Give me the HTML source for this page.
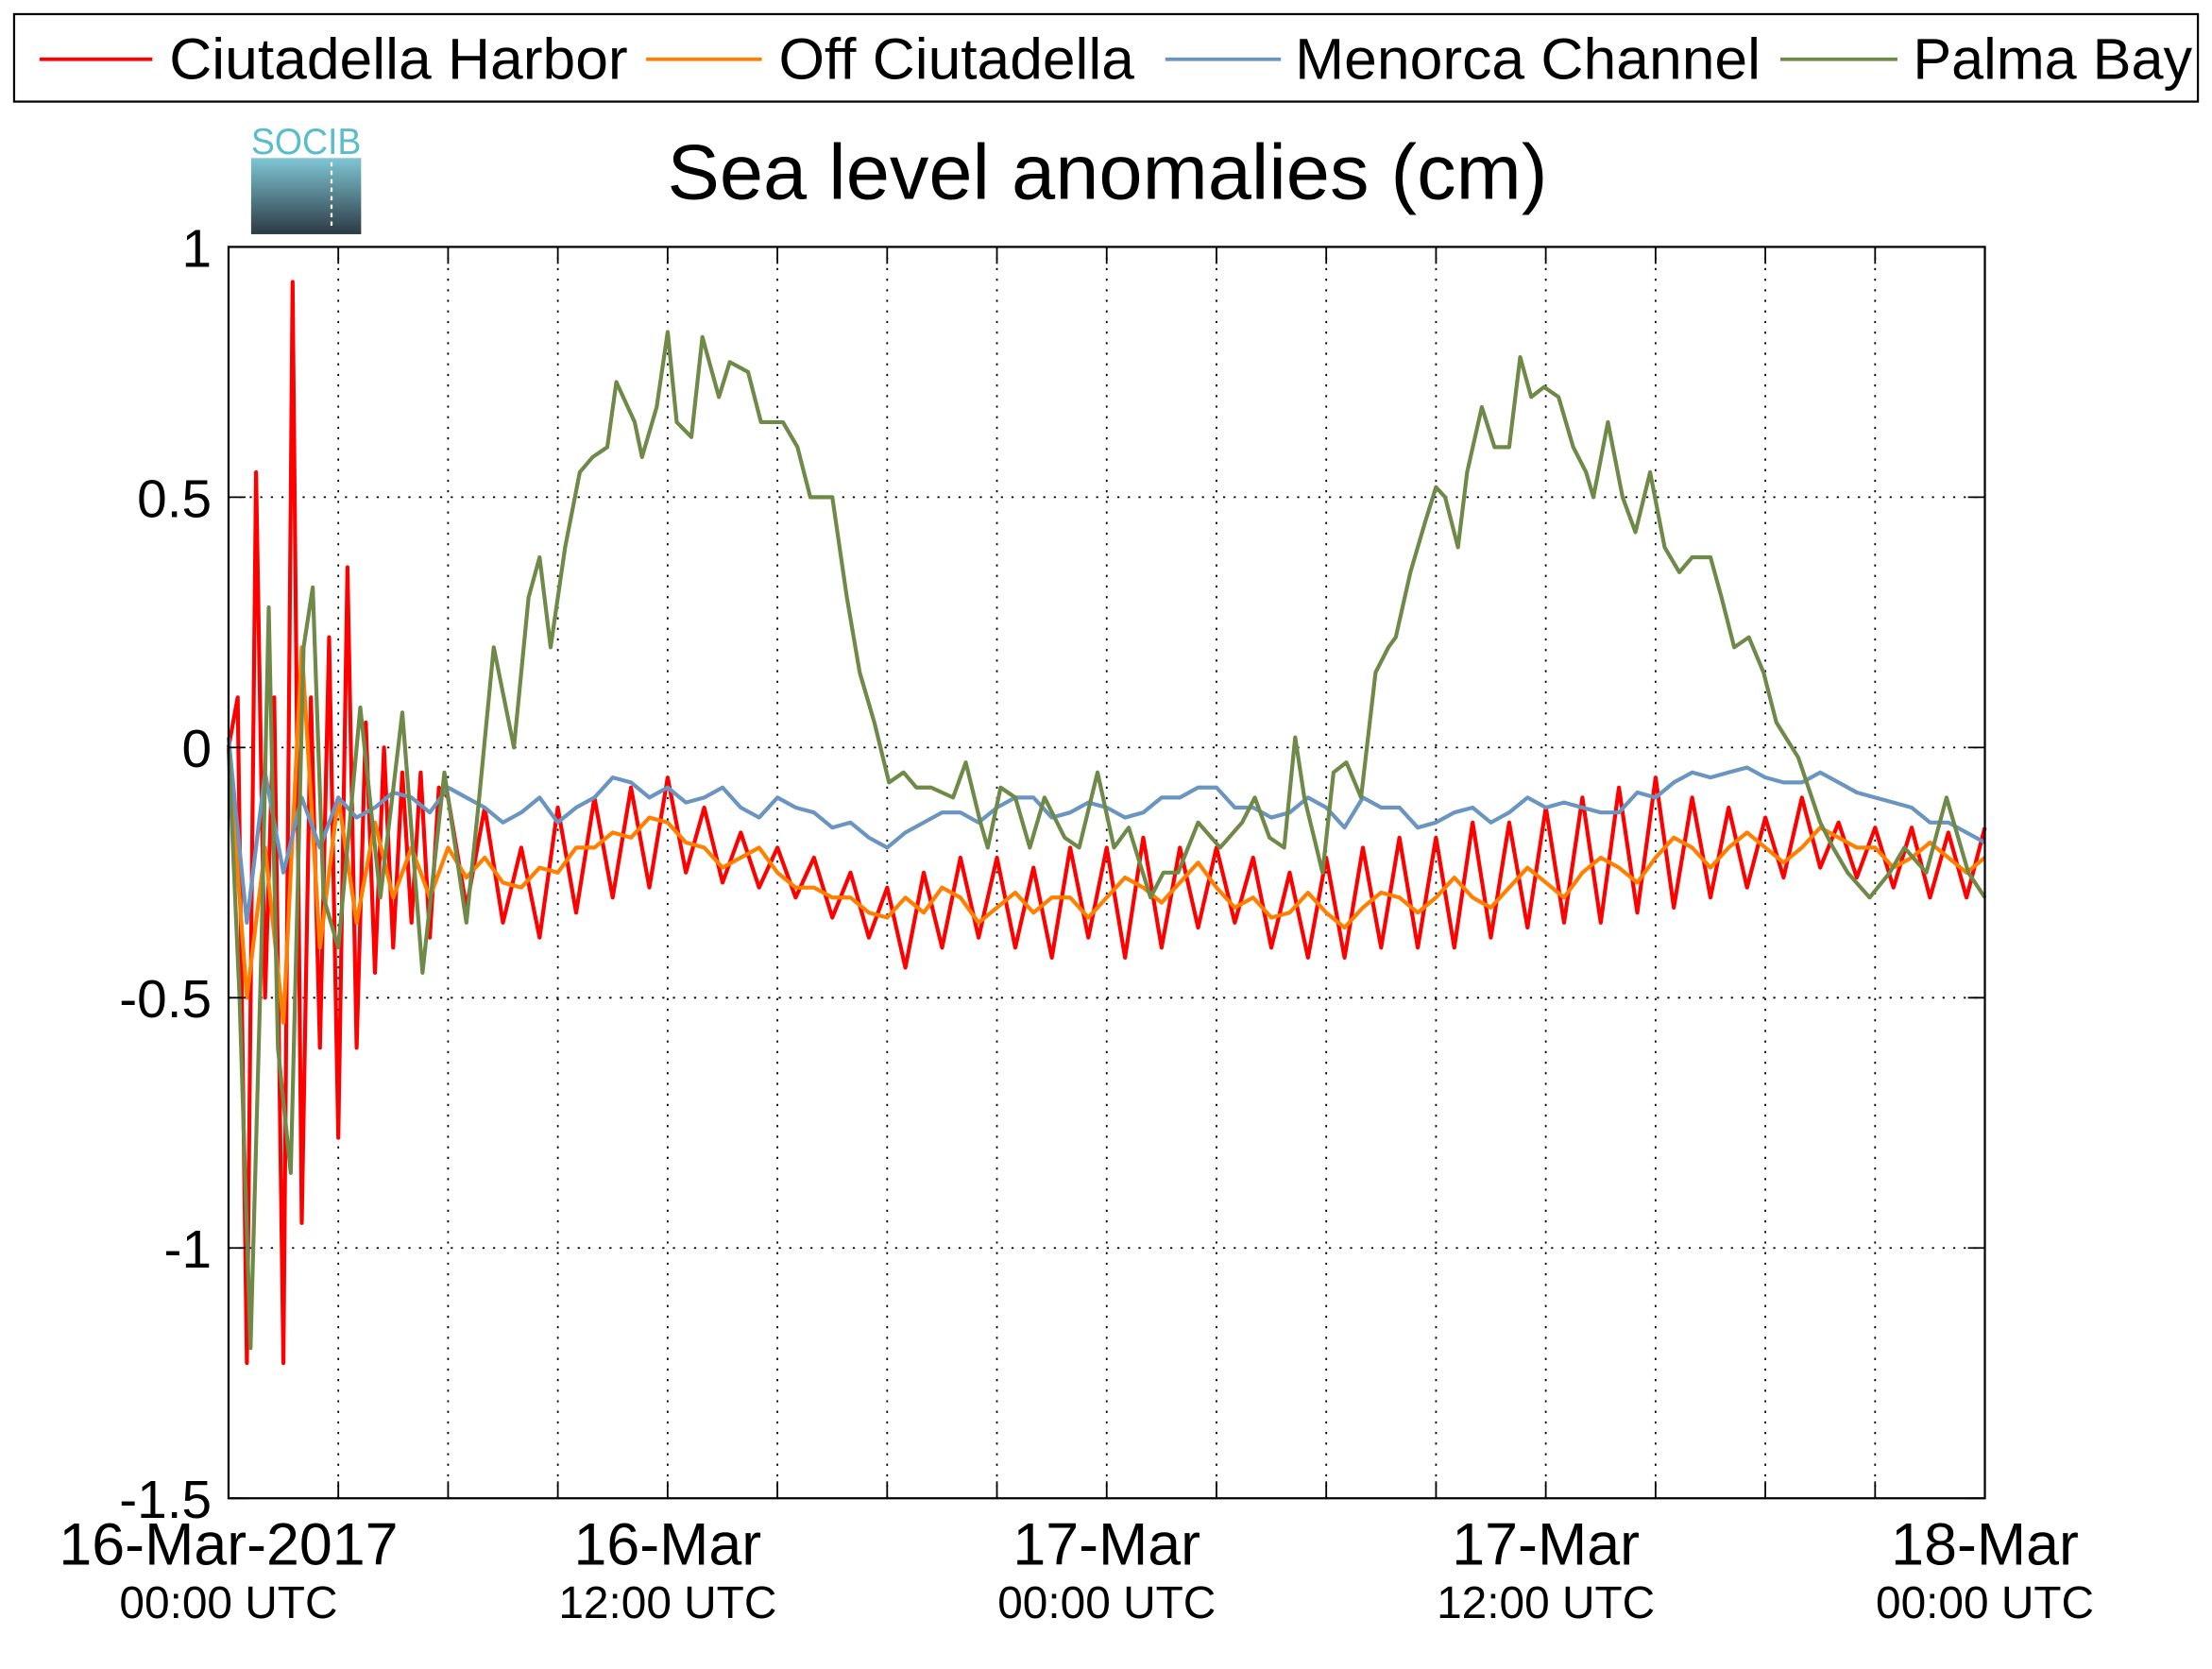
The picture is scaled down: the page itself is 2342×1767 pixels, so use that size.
<!DOCTYPE html>
<html><head><meta charset="utf-8"><style>
html,body{margin:0;padding:0;background:#fff}
svg{display:block}
text{font-family:"Liberation Sans",sans-serif}
</style></head><body>
<svg id="chart" width="2342" height="1767" viewBox="0 0 1568 1183" xmlns="http://www.w3.org/2000/svg">
<defs><linearGradient id="lg" x1="0" y1="0" x2="0" y2="1"><stop offset="0" stop-color="#7fc6d4"/><stop offset="1" stop-color="#2c3a44"/></linearGradient></defs>
<g>
<rect x="10" y="10" width="1548" height="62" fill="#fff" stroke="#000" stroke-width="1.5"/>
<g><line x1="28" y1="42" x2="108" y2="42" stroke="#ff0000" stroke-width="2.5"/><text x="120" y="56" font-size="41" textLength="325" lengthAdjust="spacingAndGlyphs">Ciutadella Harbor</text></g>
<g><line x1="458" y1="42" x2="540" y2="42" stroke="#ff8000" stroke-width="2.5"/><text x="552" y="56" font-size="41" textLength="252" lengthAdjust="spacingAndGlyphs">Off Ciutadella</text></g>
<g><line x1="826" y1="42" x2="908" y2="42" stroke="#6a95c0" stroke-width="2.5"/><text x="918" y="56" font-size="41" textLength="330" lengthAdjust="spacingAndGlyphs">Menorca Channel</text></g>
<g><line x1="1262" y1="42" x2="1345" y2="42" stroke="#6f8a48" stroke-width="2.5"/><text x="1356" y="56" font-size="41" textLength="198" lengthAdjust="spacingAndGlyphs">Palma Bay</text></g>
</g>
<g>
<rect x="178" y="112" width="78" height="54" fill="url(#lg)"/>
<text x="217" y="109" font-size="26" fill="#5bbccc" text-anchor="middle" textLength="78" lengthAdjust="spacingAndGlyphs">SOCIB</text>
<line x1="235" y1="115" x2="235" y2="160" stroke="#fff" stroke-width="1.5" stroke-dasharray="3,3"/>
</g>
<text x="785" y="141" font-size="55" text-anchor="middle" textLength="624" lengthAdjust="spacingAndGlyphs">Sea level anomalies (cm)</text>
<g id="grid"></g>
<g id="series"></g>
<rect x="162" y="175" width="1245" height="887" fill="none" stroke="#000" stroke-width="1.5"/>
<g id="axes"></g>
</svg>
<script>
const yTicks=[1,0.5,0,-0.5,-1,-1.5];
const yTickLabels=["1","0.5","0","-0.5","-1","-1.5"];
const xLabelHours=[0,12,24,36,48];
const xLabelTop=["16-Mar-2017","16-Mar","17-Mar","17-Mar","18-Mar"];
const xLabelBottom=["00:00 UTC","12:00 UTC","00:00 UTC","12:00 UTC","00:00 UTC"];
const palmaHours=[0,0.3,0.6,0.9,1.1,1.35,1.7,2.05,2.3,2.6,3.0,3.6,4.15,4.75,5.3,5.9,6.5,6.85,7.25,7.8,8.2,8.5,8.8,9.2,9.6,9.95,10.35,10.6,11.1,11.3,11.7,12.0,12.25,12.65,12.95,13.4,13.7,14.2,14.55,15.15,15.55,15.9,16.5,16.9,17.25,17.65,18.05,18.45,18.8,19.2,19.8,20.15,20.55,20.75,21.1,21.5,21.9,22.3,22.85,23.25,23.75,24.2,24.6,25.2,25.55,25.95,26.5,27.1,27.7,28.05,28.45,28.85,29.15,29.4,29.9,30.2,30.55,30.95,31.35,31.7,31.9,32.3,32.7,33.0,33.25,33.6,33.85,34.25,34.6,35.0,35.3,35.6,35.95,36.35,36.75,37.1,37.3,37.7,38.1,38.45,38.85,39.25,39.65,40.0,40.5,40.8,41.15,41.55,41.95,42.3,42.9,43.5,43.85,44.25,44.85,45.4,45.8,46.4,46.95,47.55,48];
const palmaValues=[0.0,-0.5,-1.2,-0.4,0.28,-0.6,-0.85,0.2,0.32,-0.3,-0.4,0.08,-0.3,0.07,-0.45,-0.05,-0.35,-0.1,0.2,0.0,0.3,0.38,0.2,0.4,0.55,0.58,0.6,0.73,0.65,0.58,0.68,0.83,0.65,0.62,0.82,0.7,0.77,0.75,0.65,0.65,0.6,0.5,0.5,0.3,0.15,0.05,-0.07,-0.05,-0.08,-0.08,-0.1,-0.03,-0.15,-0.2,-0.08,-0.1,-0.2,-0.1,-0.18,-0.2,-0.05,-0.2,-0.16,-0.3,-0.25,-0.25,-0.15,-0.2,-0.15,-0.1,-0.18,-0.2,0.02,-0.1,-0.25,-0.05,-0.03,-0.1,0.15,0.2,0.22,0.35,0.45,0.52,0.5,0.4,0.55,0.68,0.6,0.6,0.78,0.7,0.72,0.7,0.6,0.55,0.5,0.65,0.5,0.43,0.55,0.4,0.35,0.38,0.38,0.3,0.2,0.22,0.15,0.05,-0.02,-0.15,-0.2,-0.25,-0.3,-0.25,-0.2,-0.25,-0.1,-0.25,-0.3];
const channelStep=0.5;
const channelValues=[0.02,-0.35,-0.05,-0.25,-0.1,-0.2,-0.1,-0.14,-0.12,-0.09,-0.1,-0.13,-0.08,-0.1,-0.12,-0.15,-0.13,-0.1,-0.15,-0.12,-0.1,-0.06,-0.07,-0.1,-0.08,-0.11,-0.1,-0.08,-0.12,-0.14,-0.1,-0.12,-0.13,-0.16,-0.15,-0.18,-0.2,-0.17,-0.15,-0.13,-0.13,-0.15,-0.12,-0.1,-0.1,-0.14,-0.13,-0.11,-0.12,-0.14,-0.13,-0.1,-0.1,-0.08,-0.08,-0.12,-0.12,-0.14,-0.13,-0.1,-0.12,-0.16,-0.1,-0.12,-0.12,-0.16,-0.15,-0.13,-0.12,-0.15,-0.13,-0.1,-0.12,-0.11,-0.12,-0.13,-0.13,-0.09,-0.1,-0.07,-0.05,-0.06,-0.05,-0.04,-0.06,-0.07,-0.07,-0.05,-0.07,-0.09,-0.1,-0.11,-0.12,-0.15,-0.15,-0.17,-0.19];
const offStep=0.5;
const offValues=[0,-0.5,-0.2,-0.55,0.2,-0.4,-0.1,-0.35,-0.15,-0.3,-0.2,-0.3,-0.2,-0.26,-0.22,-0.27,-0.28,-0.24,-0.25,-0.2,-0.2,-0.17,-0.18,-0.14,-0.15,-0.19,-0.2,-0.24,-0.22,-0.2,-0.25,-0.28,-0.28,-0.3,-0.3,-0.33,-0.34,-0.3,-0.33,-0.28,-0.3,-0.35,-0.32,-0.29,-0.33,-0.3,-0.3,-0.34,-0.3,-0.26,-0.28,-0.31,-0.27,-0.23,-0.28,-0.32,-0.3,-0.34,-0.33,-0.29,-0.33,-0.36,-0.32,-0.29,-0.3,-0.33,-0.3,-0.26,-0.3,-0.32,-0.28,-0.24,-0.27,-0.3,-0.25,-0.22,-0.24,-0.27,-0.22,-0.18,-0.2,-0.24,-0.2,-0.17,-0.2,-0.23,-0.2,-0.16,-0.18,-0.2,-0.2,-0.24,-0.22,-0.19,-0.22,-0.25,-0.22];
const harborEarlyStep=0.25;
const harborEarlyValues=[0,0.1,-1.23,0.55,-0.5,0.1,-1.23,0.93,-0.95,0.1,-0.6,0.22,-0.78,0.36,-0.6,0.05,-0.45,0.0,-0.4,-0.05,-0.35,-0.05,-0.38,-0.08];
const harborStart=6;
const harborStep=0.5;
const harborValues=[-0.1,-0.32,-0.12,-0.35,-0.2,-0.38,-0.12,-0.33,-0.1,-0.3,-0.08,-0.28,-0.06,-0.25,-0.12,-0.27,-0.17,-0.28,-0.2,-0.3,-0.22,-0.34,-0.25,-0.38,-0.28,-0.44,-0.25,-0.4,-0.22,-0.38,-0.22,-0.4,-0.24,-0.42,-0.2,-0.38,-0.2,-0.42,-0.18,-0.4,-0.2,-0.36,-0.2,-0.35,-0.22,-0.4,-0.25,-0.42,-0.22,-0.42,-0.2,-0.4,-0.18,-0.4,-0.18,-0.4,-0.15,-0.38,-0.15,-0.36,-0.12,-0.35,-0.1,-0.35,-0.08,-0.33,-0.06,-0.32,-0.1,-0.3,-0.12,-0.28,-0.14,-0.26,-0.1,-0.24,-0.15,-0.26,-0.16,-0.28,-0.16,-0.3,-0.17,-0.3,-0.16];

const NS="http://www.w3.org/2000/svg";
const X0=162,X1=1407,Y0=175,Y1=1062,HMAX=48,VMAX=1,VMIN=-1.5;
function xS(h){return X0+(h/HMAX)*(X1-X0);}
function yS(v){return Y0+(VMAX-v)/(VMAX-VMIN)*(Y1-Y0);}
function mk(tag,attrs,parent){const e=document.createElementNS(NS,tag);for(const k in attrs)e.setAttribute(k,attrs[k]);parent.appendChild(e);return e;}
const grid=document.getElementById('grid'),axes=document.getElementById('axes'),series=document.getElementById('series');
for(let h=3;h<HMAX;h+=3){
  const l=mk('line',{x1:xS(h),x2:xS(h),y1:Y0,y2:Y1,stroke:'#000','stroke-width':1.2,'stroke-dasharray':'1.5,6'},grid);
  
  
}
for(let h=0;h<=HMAX;h+=3){
  const t1=mk('line',{x1:xS(h),x2:xS(h),y1:Y1,y2:Y1-12,stroke:'#000','stroke-width':1.2},axes);
  
  
  const t2=mk('line',{x1:xS(h),x2:xS(h),y1:Y0,y2:Y0+12,stroke:'#000','stroke-width':1.2},axes);
  
  
}
yTicks.forEach((v,i)=>{
  if(v<VMAX&&v>VMIN){
    const g=mk('line',{x1:X0,x2:X1,y1:yS(v),y2:yS(v),stroke:'#000','stroke-width':1.2,'stroke-dasharray':'1.5,6'},grid);
    
    
  }
  const a=mk('line',{x1:X0,x2:X0+12,y1:yS(v),y2:yS(v),stroke:'#000','stroke-width':1.2},axes);
  
  
  const b=mk('line',{x1:X1,x2:X1-12,y1:yS(v),y2:yS(v),stroke:'#000','stroke-width':1.2},axes);
  
  
  const t=mk('text',{x:X0-12,y:yS(v)+14,'font-size':38,'text-anchor':'end'},axes);
  t.textContent=yTickLabels[i];
  
  
});
xLabelHours.forEach((h,i)=>{
  const t=mk('text',{x:xS(h),y:1109,'font-size':42,'text-anchor':'middle'},axes);
  t.textContent=xLabelTop[i];
  
  
  const s=mk('text',{x:xS(h),y:1147,'font-size':32,'text-anchor':'middle'},axes);
  s.textContent=xLabelBottom[i];
  
  
});
function path(pts,color,w,name){
  const d=pts.map((p,i)=>(i?'L':'M')+xS(p[0]).toFixed(1)+','+yS(p[1]).toFixed(1)).join('');
  const e=mk('path',{d:d,fill:'none',stroke:color,'stroke-width':w,'stroke-linejoin':'round'},series);
  
  
}
const harborPts=harborEarlyValues.map((v,i)=>[i*harborEarlyStep,v]).concat(harborValues.map((v,i)=>[harborStart+i*harborStep,v]));
path(harborPts,'#ff0000',2.8,'series-ciutadella-harbor');
path(offValues.map((v,i)=>[i*offStep,v]),'#ff8000',2.8,'series-off-ciutadella');
path(channelValues.map((v,i)=>[i*channelStep,v]),'#6a95c0',2.8,'series-menorca-channel');
path(palmaHours.map((h,i)=>[h,palmaValues[i]]),'#6f8a48',2.8,'series-palma-bay');
</script>
</body></html>
